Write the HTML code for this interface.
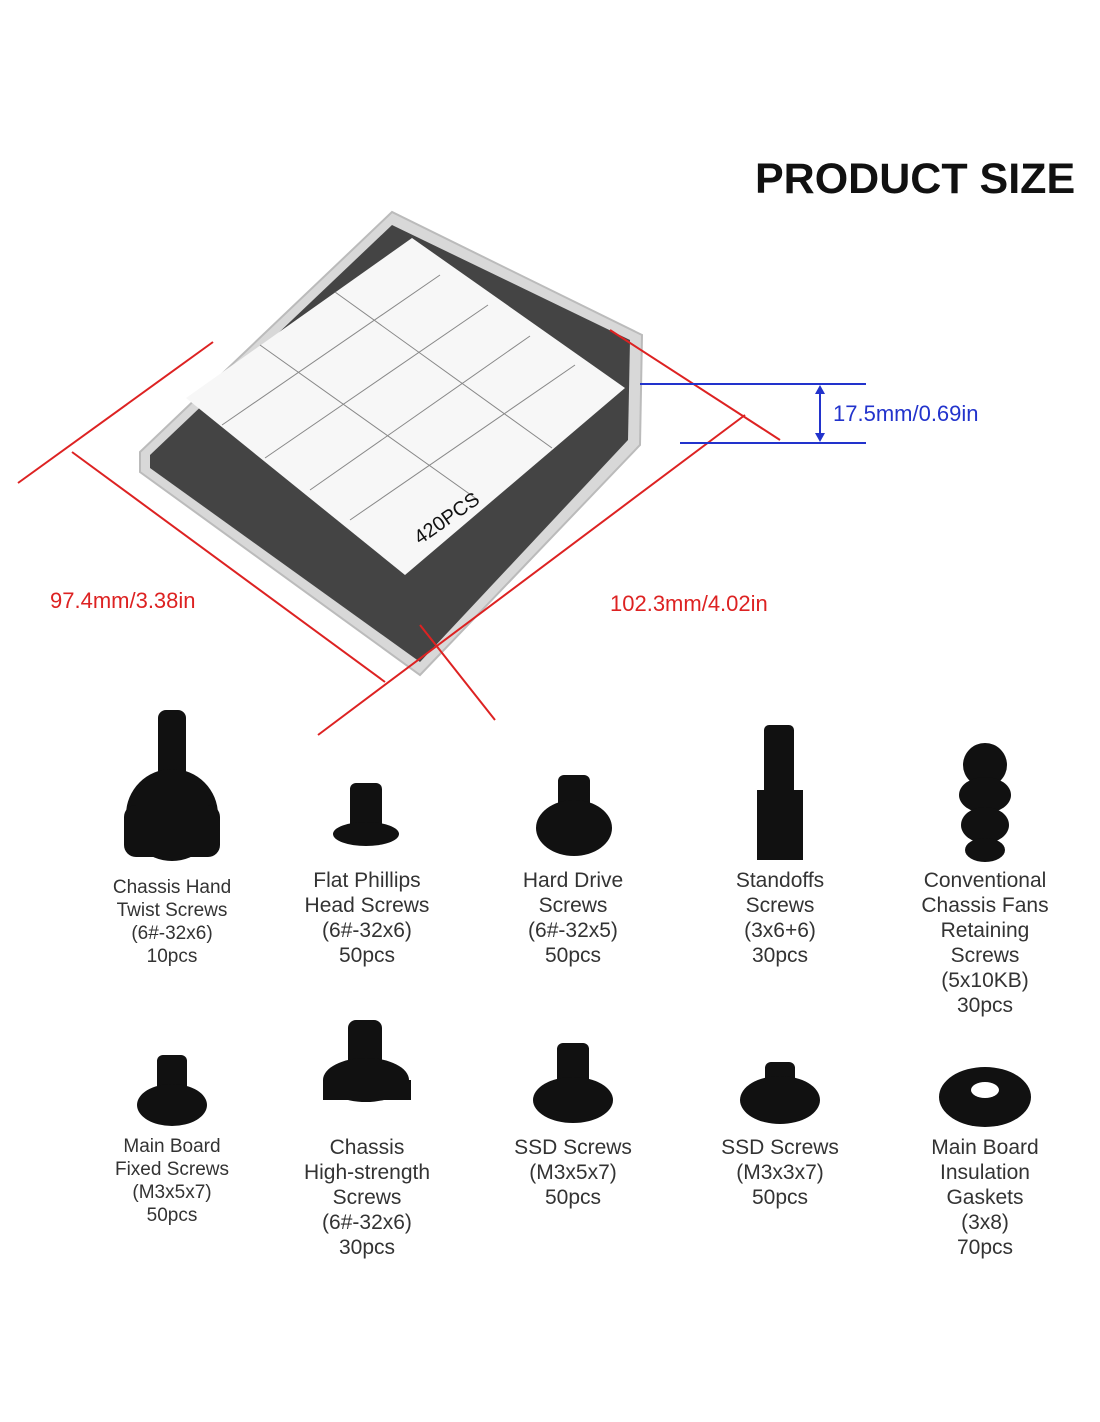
<!DOCTYPE html>
<html><head><meta charset="utf-8"><style>
body{margin:0;background:#fff;width:1100px;height:1422px;overflow:hidden;position:relative;font-family:"Liberation Sans",sans-serif}
.t{position:absolute;text-align:center;color:#333;transform:translateX(-50%);white-space:nowrap}
.a{font-size:19px;line-height:23px}
.b{font-size:21px;line-height:25px}
</style></head><body>
<div style="position:absolute;left:755px;top:155px;font-size:43px;font-weight:bold;color:#111;white-space:nowrap">PRODUCT SIZE</div>
<svg width="1100" height="1422" style="position:absolute;left:0;top:0">
<polygon points="140,452 392,212 642,335 640,445 420,675 140,472" fill="#d8d8d8" stroke="#bbb" stroke-width="2"/>
<polygon points="150,455 392,225 630,340 628,440 420,662 150,468" fill="#2a2a2a" opacity="0.85"/>
<polygon points="186,398 412,238 625,388 405,575" fill="#f7f7f7"/>
<g stroke="#888" stroke-width="1" fill="none">
<line x1="260" y1="345" x2="478" y2="500"/><line x1="335" y1="292" x2="552" y2="448"/>
<line x1="222" y1="425" x2="440" y2="275"/><line x1="265" y1="458" x2="488" y2="305"/><line x1="310" y1="490" x2="530" y2="336"/><line x1="350" y1="520" x2="575" y2="365"/>
</g>
<text x="420" y="545" font-size="20" fill="#111" transform="rotate(-35 420 545)">420PCS</text>
<g stroke="#d22" stroke-width="2">
<line x1="18" y1="483" x2="213" y2="342"/>
<line x1="72" y1="452" x2="385" y2="682"/>
<line x1="318" y1="735" x2="745" y2="415"/>
<line x1="420" y1="625" x2="495" y2="720"/>
<line x1="610" y1="330" x2="780" y2="440"/>
</g>
<g stroke="#2233cc" stroke-width="2">
<line x1="640" y1="384" x2="866" y2="384"/>
<line x1="680" y1="443" x2="866" y2="443"/>
<line x1="820" y1="388" x2="820" y2="439"/>
</g>
<polygon points="820,385 815,394 825,394" fill="#2233cc"/>
<polygon points="820,442 815,433 825,433" fill="#2233cc"/>
<text x="833" y="421" font-size="22" fill="#2233cc">17.5mm/0.69in</text>
<text x="50" y="608" font-size="22" fill="#d22">97.4mm/3.38in</text>
<text x="610" y="611" font-size="22" fill="#d22">102.3mm/4.02in</text>
<g fill="#111">
<rect x="158" y="710" width="28" height="70" rx="8"/><ellipse cx="172" cy="815" rx="46" ry="46"/><rect x="124" y="805" width="96" height="52" rx="12"/>
<rect x="350" y="783" width="32" height="48" rx="6"/><ellipse cx="366" cy="834" rx="33" ry="12"/>
<rect x="558" y="775" width="32" height="48" rx="6"/><ellipse cx="574" cy="828" rx="38" ry="28"/>
<rect x="764" y="725" width="30" height="70" rx="5"/><rect x="757" y="790" width="46" height="70"/>
<ellipse cx="985" cy="765" rx="22" ry="22"/><ellipse cx="985" cy="795" rx="26" ry="18"/><ellipse cx="985" cy="825" rx="24" ry="18"/><ellipse cx="985" cy="850" rx="20" ry="12"/>
<rect x="157" y="1055" width="30" height="42" rx="6"/><ellipse cx="172" cy="1105" rx="35" ry="21"/>
<rect x="348" y="1020" width="34" height="60" rx="8"/><ellipse cx="366" cy="1080" rx="43" ry="22"/><rect x="323" y="1080" width="88" height="20"/>
<rect x="557" y="1043" width="32" height="50" rx="6"/><ellipse cx="573" cy="1100" rx="40" ry="23"/>
<rect x="765" y="1062" width="30" height="35" rx="6"/><ellipse cx="780" cy="1100" rx="40" ry="24"/>
<ellipse cx="985" cy="1097" rx="46" ry="30"/>
</g>
<ellipse cx="985" cy="1090" rx="14" ry="8" fill="#fff"/>
</svg>
<div class="t a" style="left:172px;top:876px">Chassis Hand<br>Twist Screws<br>(6#-32x6)<br>10pcs</div>
<div class="t b" style="left:367px;top:868px">Flat Phillips<br>Head Screws<br>(6#-32x6)<br>50pcs</div>
<div class="t b" style="left:573px;top:868px">Hard Drive<br>Screws<br>(6#-32x5)<br>50pcs</div>
<div class="t b" style="left:780px;top:868px">Standoffs<br>Screws<br>(3x6+6)<br>30pcs</div>
<div class="t b" style="left:985px;top:868px">Conventional<br>Chassis Fans<br>Retaining<br>Screws<br>(5x10KB)<br>30pcs</div>
<div class="t a" style="left:172px;top:1135px">Main Board<br>Fixed Screws<br>(M3x5x7)<br>50pcs</div>
<div class="t b" style="left:367px;top:1135px">Chassis<br>High-strength<br>Screws<br>(6#-32x6)<br>30pcs</div>
<div class="t b" style="left:573px;top:1135px">SSD Screws<br>(M3x5x7)<br>50pcs</div>
<div class="t b" style="left:780px;top:1135px">SSD Screws<br>(M3x3x7)<br>50pcs</div>
<div class="t b" style="left:985px;top:1135px">Main Board<br>Insulation<br>Gaskets<br>(3x8)<br>70pcs</div>
</body></html>
